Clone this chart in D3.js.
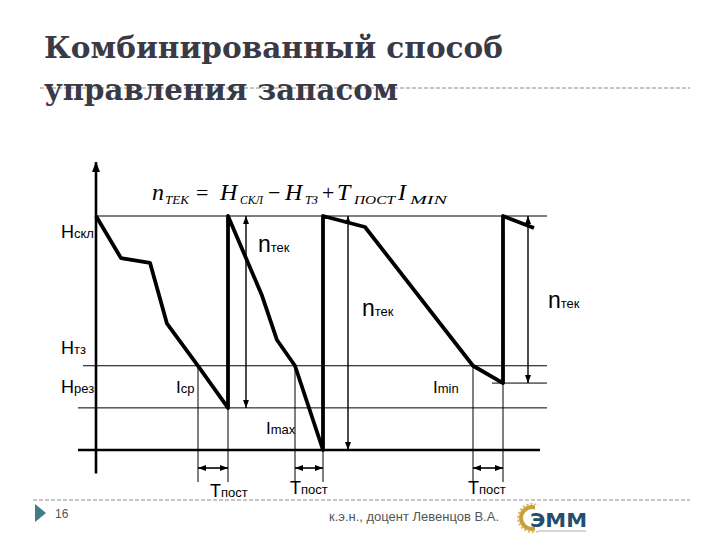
<!DOCTYPE html>
<html><head><meta charset="utf-8">
<script src="https://cdn.jsdelivr.net/npm/d3@7"></script>
<style>html,body{margin:0;padding:0;background:#fff;}svg{display:block;}</style>
</head><body>
<script>
// ---- data ----
const titleLines = ["Комбинированный способ", "управления запасом"];
const levelNames = ["Н", "Н", "Н"];
const levelSubs = ["скл", "тз", "рез"];
const levelValues = [100, 36, 18];          // Hскл, Hтз, Hрез
const stockT = [0, 2.5, 5.4, 7.1, 10.2, 13.2, 13.2, 16.6, 18.1, 19.9, 22.7, 22.7, 26.9, 37.7, 40.7, 40.7, 43.8];
const stockQ = [100, 82, 80, 54, 36, 18, 100, 66, 47, 36, 0, 100, 95.3, 36, 28.6, 100, 94.9];
const orderT = [15.0, 25.2, 43.2];           // n_тек arrows
const orderTo = [18, 0, 28.6];
const leadStart = [10.2, 19.9, 37.7];        // Tпост intervals
const leadEnd = [13.2, 22.7, 40.7];
const leadEndLevel = [18, 0, 28.6];
const rateLabels = ["ср", "max", "min"];
const footerText = "к.э.н., доцент Левенцов В.А.";
const pageNumber = "16";

// ---- scales ----
const W = 720, H = 540;
const x = d3.scaleLinear().domain([0, 45]).range([96, 546]);
const y = d3.scaleLinear().domain([0, 100]).range([450, 216]);

const svg = d3.select("body").append("svg").attr("width", W).attr("height", H)
  .style("font-family", "'Liberation Sans', Arial, sans-serif");

const defs = svg.append("defs");
defs.append("marker").attr("id", "ah").attr("markerUnits", "userSpaceOnUse")
  .attr("viewBox", "0 0 8 6").attr("refX", 8).attr("refY", 3)
  .attr("markerWidth", 8).attr("markerHeight", 6).attr("orient", "auto-start-reverse")
  .append("path").attr("d", "M0,0 L8,3 L0,6 Z").attr("fill", "#000");
defs.append("marker").attr("id", "axh").attr("markerUnits", "userSpaceOnUse")
  .attr("viewBox", "0 0 11 8").attr("refX", 10).attr("refY", 4)
  .attr("markerWidth", 11).attr("markerHeight", 8).attr("orient", "auto")
  .append("path").attr("d", "M0,0 L11,4 L0,8 Z").attr("fill", "#000");

// ---- title ----
const tcol = "#3a3a46";
svg.append("text").attr("x", 44).attr("y", 58).text(titleLines[0])
  .attr("font-family", "'DejaVu Serif', serif").attr("font-weight", "bold").attr("font-size", 30)
  .attr("fill", tcol).attr("textLength", 459).attr("lengthAdjust", "spacingAndGlyphs");
svg.append("line").attr("x1", 40).attr("x2", 690).attr("y1", 88).attr("y2", 88)
  .attr("stroke", "#8a8a8a").attr("stroke-width", 1).attr("stroke-dasharray", "4,2");
svg.append("text").attr("x", 44).attr("y", 100).text(titleLines[1])
  .attr("font-family", "'DejaVu Serif', serif").attr("font-weight", "bold").attr("font-size", 30)
  .attr("fill", tcol).attr("textLength", 354).attr("lengthAdjust", "spacingAndGlyphs");

// ---- footer ----
svg.append("line").attr("x1", 33).attr("x2", 690).attr("y1", 500).attr("y2", 500)
  .attr("stroke", "#8a8a8a").attr("stroke-width", 1).attr("stroke-dasharray", "4,2");
svg.append("path").attr("d", "M35,504 L46,513 L35,522 Z").attr("fill", "#3f7c86");
svg.append("text").attr("x", 55).attr("y", 518).text(pageNumber)
  .attr("font-size", 12).attr("fill", "#555");
svg.append("text").attr("x", 329).attr("y", 521).text(footerText)
  .attr("font-size", 12).attr("fill", "#555").attr("textLength", 170).attr("lengthAdjust", "spacingAndGlyphs");
// logo
const lg = svg.append("g");
lg.append("circle").attr("cx", 532).attr("cy", 518).attr("r", 11)
  .attr("fill", "none").attr("stroke", "#c9a13a").attr("stroke-width", 4);
lg.append("circle").attr("cx", 532).attr("cy", 518).attr("r", 14)
  .attr("fill", "none").attr("stroke", "#d9b860").attr("stroke-width", 2).attr("stroke-dasharray", "2,2");
lg.append("rect").attr("x", 535).attr("y", 505).attr("width", 18).attr("height", 26).attr("fill", "#fff");
lg.append("text").attr("x", 530).attr("y", 527).text("ЭММ")
  .attr("font-family", "'DejaVu Sans', sans-serif").attr("font-weight", "bold").attr("font-size", 19)
  .attr("fill", "#234f6c").attr("textLength", 57).attr("lengthAdjust", "spacingAndGlyphs");
lg.append("line").attr("x1", 538).attr("x2", 586).attr("y1", 531).attr("y2", 531).attr("stroke", "#aaa").attr("stroke-width", 1);

// ---- chart ----
const g = svg.append("g");
const thin = (x1, y1, x2, y2, w) => g.append("line").attr("x1", x1).attr("y1", y1).attr("x2", x2).attr("y2", y2)
  .attr("stroke", "#000").attr("stroke-width", w || 1);

// level lines
thin(x(0), y(levelValues[0]), x(45.1), y(levelValues[0]));
thin(x(-1.3), y(levelValues[1]), x(45.1), y(levelValues[1]));
thin(x(-1.8), y(levelValues[2]), x(45.1), y(levelValues[2]));
thin(x(39.6), y(leadEndLevel[2]), x(45.1), y(leadEndLevel[2]));
// zero line (thick)
thin(x(-1.8), y(0), x(44.4), y(0), 2.6);

// y axis
g.append("line").attr("x1", x(0)).attr("x2", x(0)).attr("y1", y(-10)).attr("y2", y(123))
  .attr("stroke", "#000").attr("stroke-width", 2.6).attr("marker-end", "url(#axh)");

// lead-time verticals and arrows
const yLow = y(-13.7), yArr = y(-7.7);
leadStart.forEach((t, i) => {
  thin(x(t), y(levelValues[1]), x(t), yLow);
  thin(x(leadEnd[i]), y(leadEndLevel[i]), x(leadEnd[i]), yLow);
  g.append("line").attr("x1", x(t)).attr("x2", x(leadEnd[i])).attr("y1", yArr).attr("y2", yArr)
    .attr("stroke", "#000").attr("stroke-width", 1.6)
    .attr("marker-start", "url(#ah)").attr("marker-end", "url(#ah)");
});

// order quantity arrows
orderT.forEach((t, i) => {
  g.append("line").attr("x1", x(t)).attr("x2", x(t)).attr("y1", y(levelValues[0])).attr("y2", y(orderTo[i]))
    .attr("stroke", "#000").attr("stroke-width", 1.4)
    .attr("marker-start", "url(#ah)").attr("marker-end", "url(#ah)");
});

// stock curve
const pts = stockT.map((t, i) => [t, stockQ[i]]);
g.append("path").datum(pts)
  .attr("d", d3.line().x(d => x(d[0])).y(d => y(d[1])))
  .attr("fill", "none").attr("stroke", "#000").attr("stroke-width", 3.8)
  .attr("stroke-linejoin", "round");

// ---- labels ----
const SMALL = 13;
function lbl(px, py, big, small, bigSize) {
  const t = svg.append("text").attr("x", px).attr("y", py).attr("fill", "#000");
  t.append("tspan").attr("font-size", bigSize || 17).text(big);
  t.append("tspan").attr("font-size", SMALL).text(small);
}
const lvX = x(0) - 35;
lbl(lvX, y(levelValues[0]) + 22, levelNames[0], levelSubs[0], 18);
lbl(lvX, y(levelValues[1]) - 12, levelNames[1], levelSubs[1], 18);
lbl(lvX, y(levelValues[2]) - 15, levelNames[2], levelSubs[2], 18);

lbl(x(orderT[0]) + 12, y(levelValues[0]) + 36, "n", "тек", 23);
lbl(x(orderT[1]) + 14, y(levelValues[0]) + 100, "n", "тек", 23);
lbl(x(orderT[2]) + 20, y(levelValues[0]) + 92, "n", "тек", 23);

lbl(x(leadStart[0]) - 22, y(levelValues[2]) - 15, "I", rateLabels[0]);
lbl(x(leadStart[1]) - 29, y(0) - 16, "I", rateLabels[1]);
lbl(x(leadStart[2]) - 40, y(levelValues[2]) - 15, "I", rateLabels[2]);

lbl(x(leadStart[0]) + 12, 497, "Т", "пост", 18);
lbl(x(leadStart[1]) - 5, 494, "Т", "пост", 18);
lbl(x(leadStart[2]) - 5, 494, "Т", "пост", 18);

// formula
const f = svg.append("text").attr("y", 200).attr("fill", "#000")
  .attr("font-family", "'Liberation Serif', 'Times New Roman', serif");
const parts = [
  ["n", 152, 0, 24, 0], ["TEK", 165, 4, 13, 24], ["=", 196, 0, 22, 0],
  ["H", 220, 0, 24, 0], ["СКЛ", 240, 4, 13, 23], ["−", 268, 0, 22, 0],
  ["H", 285, 0, 24, 0], ["ТЗ", 305, 4, 13, 13], ["+", 322, 0, 22, 0],
  ["T", 337, 0, 24, 0], ["ПОСТ", 354, 4, 13, 41], ["I", 398, 0, 24, 0], ["MIN", 410, 4, 13, 37]
];
parts.forEach(p => {
  const s = f.append("tspan").attr("x", p[1]).attr("y", 200 + p[2]).attr("font-size", p[3])
    .attr("font-style", (p[0] === "=" || p[0] === "+" || p[0] === "−") ? "normal" : "italic").text(p[0]);
  if (p[4]) s.attr("textLength", p[4]).attr("lengthAdjust", "spacingAndGlyphs");
});
</script>
</body></html>
